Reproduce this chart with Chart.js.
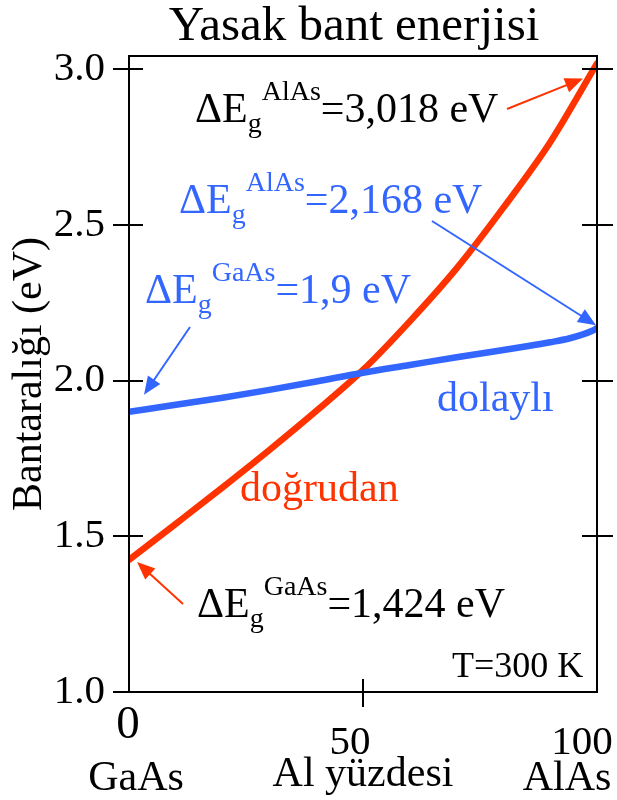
<!DOCTYPE html>
<html>
<head>
<meta charset="utf-8">
<script src="https://cdn.jsdelivr.net/npm/chart.js@4/dist/chart.umd.min.js"></script>
<style>
  html, body { margin: 0; padding: 0; background: #fff; }
  #wrap { width: 617px; height: 800px; }
</style>
</head>
<body>
<div id="wrap"><canvas id="c" width="617" height="800"></canvas></div>
<script>
const SERIF = '"Liberation Serif", "Times New Roman", serif';
const RED = '#ff3300';
const BLUE = '#3366ff';

// Al content (%) and band gap (eV) of AlGaAs
const directPct = [0, 10, 20, 30, 40, 50, 60, 70, 80, 90, 100];
const directGap = [1.424, 1.540, 1.657, 1.777, 1.902, 2.034, 2.190, 2.360, 2.555, 2.765, 3.018];
const indirectPct = [0, 10, 20, 30, 40, 50, 60, 70, 80, 85, 90, 94, 97, 99, 100];
const indirectGap = [1.900, 1.922, 1.945, 1.970, 1.997, 2.025, 2.050, 2.075, 2.098, 2.110, 2.123, 2.135, 2.148, 2.160, 2.168];

const xTickValues = [0, 50, 100];
const yTickValues = [1.0, 1.5, 2.0, 2.5, 3.0];
const endMaterials = ['GaAs', 'AlAs'];

const toPoints = (xs, ys) => xs.map((x, i) => ({ x, y: ys[i] }));
const fmtEv = v => String(v).replace('.', ',');

function drawArrow(ctx, x1, y1, x2, y2, color) {
  const a = Math.atan2(y2 - y1, x2 - x1);
  const L = 18, W = 7.5;
  ctx.strokeStyle = color;
  ctx.lineWidth = 2;
  ctx.beginPath();
  ctx.moveTo(x1, y1);
  ctx.lineTo(x2 - L * 0.8 * Math.cos(a), y2 - L * 0.8 * Math.sin(a));
  ctx.stroke();
  ctx.fillStyle = color;
  ctx.beginPath();
  ctx.moveTo(x2, y2);
  ctx.lineTo(x2 - L * Math.cos(a) + W * Math.sin(a), y2 - L * Math.sin(a) - W * Math.cos(a));
  ctx.lineTo(x2 - L * Math.cos(a) - W * Math.sin(a), y2 - L * Math.sin(a) + W * Math.cos(a));
  ctx.closePath();
  ctx.fill();
}

// "ΔE_g^{sup}=value eV"
function drawGapLabel(ctx, x, base, sup, value, color) {
  ctx.fillStyle = color;
  ctx.textAlign = 'left';
  ctx.textBaseline = 'alphabetic';
  ctx.font = `42px ${SERIF}`;
  ctx.fillText('ΔE', x, base);
  let cx = x + ctx.measureText('ΔE').width;
  ctx.font = `28px ${SERIF}`;
  ctx.fillText('g', cx, base + 10);
  cx += ctx.measureText('g').width;
  ctx.fillText(sup, cx, base - 22);
  cx += ctx.measureText(sup).width;
  ctx.font = `42px ${SERIF}`;
  ctx.fillText('=' + fmtEv(value) + ' eV', cx, base);
}

function text(ctx, str, x, y, size, color, align) {
  ctx.font = `${size}px ${SERIF}`;
  ctx.fillStyle = color;
  ctx.textAlign = align || 'left';
  ctx.textBaseline = 'alphabetic';
  ctx.fillText(str, x, y);
}

const framePlugin = {
  id: 'frameAndNotes',
  afterDraw(chart) {
    const { ctx, chartArea: a, scales: { x, y } } = chart;
    ctx.save();

    // plot frame and tick marks
    ctx.strokeStyle = '#000';
    ctx.lineWidth = 2;
    ctx.strokeRect(Math.round(a.left), Math.round(a.top), Math.round(a.right - a.left), Math.round(a.bottom - a.top));
    ctx.beginPath();
    y.ticks.forEach(t => {
      const py = Math.round(y.getPixelForValue(t.value));
      ctx.moveTo(a.left - 16, py); ctx.lineTo(a.left + 14, py);
      if (t.value > y.min) { ctx.moveTo(a.right - 15, py); ctx.lineTo(a.right + 16, py); }
    });
    x.ticks.forEach(t => {
      const px = Math.round(x.getPixelForValue(t.value));
      const outer = (t.value > x.min && t.value < x.max) ? a.bottom + 15 : a.bottom;
      ctx.moveTo(px, a.bottom - 13); ctx.lineTo(px, outer);
    });
    ctx.stroke();

    // title
    text(ctx, 'Yasak bant enerjisi', 354, 40, 49, '#000', 'center');

    // x tick labels and end materials
    const xl = [
      { v: xTickValues[0], dx: -1, base: 738, size: 47 },
      { v: xTickValues[1], dx: -13, base: 754, size: 41 },
      { v: xTickValues[2], dx: -15, base: 754, size: 41 }
    ];
    xl.forEach(l => text(ctx, String(l.v), x.getPixelForValue(l.v) + l.dx, l.base, l.size, '#000', 'center'));
    text(ctx, endMaterials[0], x.getPixelForValue(xTickValues[0]) + 7, 790, 42, '#000', 'center');
    text(ctx, endMaterials[1], x.getPixelForValue(xTickValues[2]) - 30, 790, 42, '#000', 'center');

    // end-point annotations
    const rS = { x: x.getPixelForValue(directPct[0]), y: y.getPixelForValue(directGap[0]) };
    const rE = { x: x.getPixelForValue(directPct[directPct.length - 1]), y: y.getPixelForValue(directGap[directGap.length - 1]) };
    const bS = { x: x.getPixelForValue(indirectPct[0]), y: y.getPixelForValue(indirectGap[0]) };
    const bE = { x: x.getPixelForValue(indirectPct[indirectPct.length - 1]), y: y.getPixelForValue(indirectGap[indirectGap.length - 1]) };

    drawGapLabel(ctx, 195, 122, 'AlAs', directGap[directGap.length - 1], '#000');
    drawArrow(ctx, 507, 109, rE.x - 14, rE.y + 15, RED);

    drawGapLabel(ctx, 179, 213, 'AlAs', indirectGap[indirectGap.length - 1], BLUE);
    drawArrow(ctx, 432, 221, bE.x - 1, bE.y - 3, BLUE);

    drawGapLabel(ctx, 145, 303, 'GaAs', indirectGap[0], BLUE);
    drawArrow(ctx, 190, 327, bS.x + 15, bS.y - 17, BLUE);

    drawGapLabel(ctx, 197, 617, 'GaAs', directGap[0], '#000');
    drawArrow(ctx, 183, 604, rS.x + 8, rS.y + 2, RED);

    // curve names and temperature
    text(ctx, 'dolaylı', 437, 411, 42, BLUE);
    text(ctx, 'doğrudan', 240, 501, 42, RED);
    text(ctx, 'T=300 K', 452, 677, 36, '#000');

    ctx.restore();
  }
};

new Chart(document.getElementById('c'), {
  type: 'line',
  data: {
    datasets: [
      {
        label: 'dolaylı',
        data: toPoints(indirectPct, indirectGap),
        borderColor: BLUE,
        borderWidth: 6.5,
        pointRadius: 0,
        cubicInterpolationMode: 'monotone',
        borderCapStyle: 'round',
        fill: false
      },
      {
        label: 'doğrudan',
        data: toPoints(directPct, directGap),
        borderColor: RED,
        borderWidth: 6.5,
        pointRadius: 0,
        cubicInterpolationMode: 'monotone',
        borderCapStyle: 'round',
        fill: false
      }
    ]
  },
  options: {
    responsive: false,
    animation: false,
    devicePixelRatio: 1,
    layout: { padding: { top: 56, right: 20, left: 0, bottom: 0 } },
    plugins: {
      legend: { display: false },
      tooltip: { enabled: false },
      title: { display: false }
    },
    scales: {
      x: {
        type: 'linear',
        position: 'bottom',
        min: 0,
        max: 100,
        afterBuildTicks: s => { s.ticks = xTickValues.map(v => ({ value: v })); },
        ticks: { display: false },
        grid: { display: false },
        border: { display: false },
        title: {
          display: true,
          text: 'Al yüzdesi',
          color: '#000',
          font: { family: SERIF, size: 42 },
          padding: { top: 0, bottom: 0 }
        },
        afterFit: s => { s.height = 108; }
      },
      y: {
        type: 'linear',
        position: 'left',
        min: 1.0,
        max: 3.042,
        afterBuildTicks: s => { s.ticks = yTickValues.map(v => ({ value: v })); },
        ticks: {
          color: '#000',
          font: { family: SERIF, size: 41 },
          padding: 16,
          callback: v => Number(v).toFixed(1)
        },
        grid: { display: false },
        border: { display: false },
        title: {
          display: true,
          text: 'Bantaralığı (eV)',
          color: '#000',
          font: { family: SERIF, size: 42 },
          padding: { top: 5, bottom: 0 }
        },
        afterFit: s => { s.width = 129; }
      }
    }
  },
  plugins: [framePlugin]
});
</script>
</body>
</html>
